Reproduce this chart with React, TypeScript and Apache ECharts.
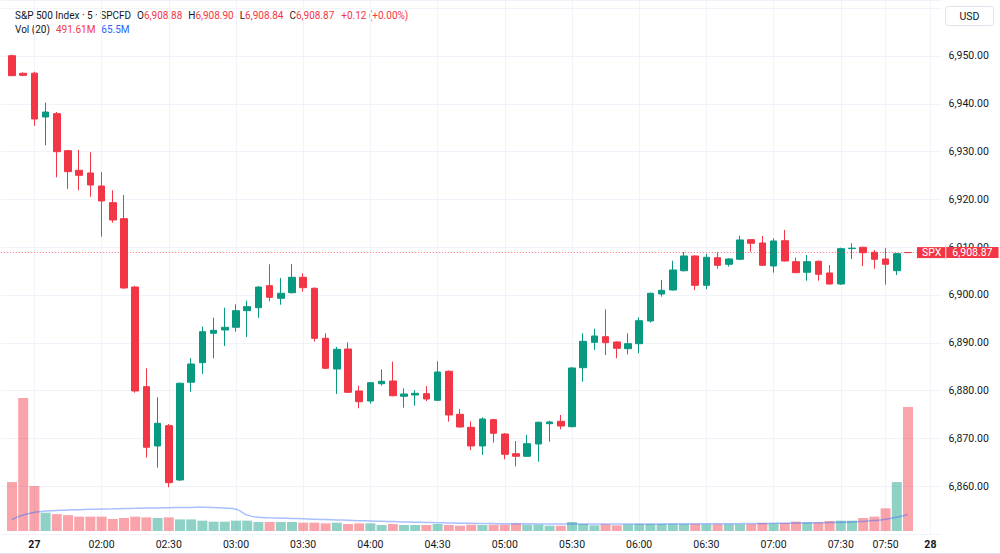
import React, { useEffect, useRef } from 'react';
import * as echarts from 'echarts';

const UP = '#089981';
const DOWN = '#F23645';
const TEXT = '#131722';
const GRID = '#F0F3FA';
const FONT = 'Roboto, "Noto Sans", sans-serif';

// [open, high, low, close] for each 5-minute bar from 01:20 to 08:00
const ohlc: [number, number, number, number][] = [
  [6950.06, 6950.3, 6945.8, 6945.88],
  [6946.38, 6946.55, 6945.75, 6945.96],
  [6946.4, 6946.7, 6935.36, 6936.82],
  [6937.24, 6940.23, 6931.32, 6938.28],
  [6937.93, 6938.28, 6924.62, 6929.98],
  [6930.19, 6930.35, 6922.18, 6925.8],
  [6926.09, 6930.33, 6921.9, 6925.04],
  [6925.52, 6929.85, 6920.57, 6923.01],
  [6922.8, 6925.73, 6912.2, 6919.67],
  [6919.31, 6921.9, 6915.13, 6915.69],
  [6915.97, 6920.92, 6901.3, 6901.46],
  [6901.67, 6901.9, 6879.56, 6879.92],
  [6880.82, 6884.66, 6865.97, 6868.14],
  [6868.41, 6878.6, 6863.87, 6873.16],
  [6872.66, 6873.0, 6859.77, 6860.74],
  [6861.3, 6881.7, 6861.1, 6881.53],
  [6881.74, 6886.76, 6879.77, 6885.56],
  [6885.84, 6893.37, 6883.47, 6892.32],
  [6891.99, 6895.25, 6886.76, 6892.61],
  [6892.68, 6897.34, 6889.33, 6893.24],
  [6893.24, 6898.05, 6892.32, 6896.72],
  [6896.72, 6898.81, 6891.21, 6897.55],
  [6897.34, 6901.8, 6895.19, 6901.67],
  [6901.95, 6906.42, 6898.68, 6899.52],
  [6899.31, 6903.56, 6897.97, 6900.36],
  [6900.48, 6906.49, 6900.3, 6903.7],
  [6903.7, 6904.54, 6900.69, 6901.53],
  [6901.4, 6901.6, 6890.23, 6890.94],
  [6890.94, 6891.99, 6884.5, 6884.67],
  [6884.52, 6889.12, 6879.29, 6888.64],
  [6888.7, 6890.1, 6879.5, 6879.64],
  [6879.92, 6881.03, 6876.3, 6877.68],
  [6877.82, 6881.8, 6877.26, 6881.65],
  [6881.44, 6884.45, 6881.03, 6881.95],
  [6882.01, 6886.05, 6878.8, 6878.93],
  [6878.81, 6880.48, 6876.42, 6879.29],
  [6879.08, 6880.06, 6876.84, 6879.43],
  [6879.35, 6880.96, 6877.82, 6878.24],
  [6877.97, 6886.13, 6877.8, 6883.89],
  [6884.04, 6884.2, 6873.5, 6874.9],
  [6875.04, 6876.15, 6872.3, 6872.38],
  [6872.32, 6873.58, 6867.57, 6868.41],
  [6868.41, 6874.41, 6866.53, 6874.06],
  [6873.92, 6874.1, 6869.1, 6871.07],
  [6870.92, 6871.1, 6865.63, 6866.67],
  [6866.8, 6869.46, 6864.16, 6866.26],
  [6866.26, 6870.71, 6866.1, 6868.89],
  [6868.83, 6873.5, 6865.13, 6873.37],
  [6873.08, 6873.71, 6869.31, 6873.43],
  [6873.58, 6874.9, 6871.9, 6872.59],
  [6872.45, 6884.9, 6872.3, 6884.73],
  [6884.79, 6891.99, 6881.86, 6890.31],
  [6890.1, 6892.95, 6888.49, 6891.42],
  [6891.28, 6897.0, 6887.45, 6890.02],
  [6890.17, 6890.3, 6886.76, 6888.85],
  [6888.77, 6891.99, 6887.59, 6889.81],
  [6889.81, 6895.33, 6887.8, 6894.62],
  [6894.56, 6900.5, 6894.21, 6900.36],
  [6900.21, 6903.14, 6899.65, 6900.98],
  [6901.05, 6907.18, 6900.9, 6905.23],
  [6905.08, 6909.0, 6904.9, 6908.16],
  [6908.16, 6908.3, 6901.05, 6902.03],
  [6902.03, 6908.58, 6901.19, 6907.89],
  [6907.8, 6908.93, 6905.5, 6906.21],
  [6906.42, 6907.7, 6905.92, 6907.53],
  [6907.47, 6912.41, 6907.3, 6911.51],
  [6911.57, 6911.7, 6909.06, 6910.82],
  [6910.88, 6912.34, 6906.1, 6906.21],
  [6906.07, 6911.86, 6904.67, 6911.3],
  [6911.36, 6913.6, 6907.0, 6907.11],
  [6906.97, 6907.8, 6904.6, 6904.67],
  [6904.75, 6908.37, 6902.99, 6906.97],
  [6907.05, 6907.2, 6902.99, 6904.33],
  [6904.6, 6906.28, 6902.2, 6902.3],
  [6902.3, 6909.9, 6902.1, 6909.69],
  [6909.7, 6910.82, 6907.53, 6909.8],
  [6909.98, 6910.1, 6906.07, 6908.85],
  [6908.93, 6909.41, 6905.5, 6907.47],
  [6907.53, 6909.77, 6902.16, 6906.42],
  [6905.08, 6908.8, 6904.18, 6908.64],
  [6908.88, 6908.9, 6908.84, 6908.87],
];

// volume in millions
const volumes = [
  194, 527, 178, 72.6, 67, 63, 57, 57, 57, 47.6,
  51.5, 57, 54, 51.5, 54, 46, 46, 41, 37, 37,
  41, 41, 35.7, 35.7, 35.7, 35.7, 33, 33, 30.4, 33,
  27.8, 30.4, 30.4, 23.8, 27.8, 23.8, 23.8, 23.8, 27.8, 23.8,
  21, 25, 23.8, 25, 25, 29, 25, 25, 21, 21,
  35.7, 27.8, 22.6, 26.4, 22.6, 26.4, 27.8, 27.8, 27.8, 27.8,
  27.8, 27.8, 27, 27, 27, 27, 27.8, 31.7, 30, 31.7,
  37, 34.4, 34.4, 39.6, 41, 41, 51.5, 57, 90, 194,
  491.61,
];

// 20-bar volume moving average, millions
const volumeMA = [
  45.6, 63.4, 74, 79.3, 81.3, 83.3, 84.5, 86, 87.2, 88,
  89.2, 90, 90.8, 91.6, 92.4, 93.2, 93.6, 94, 93.6, 91.2,
  86, 63, 54.3, 52.3, 50.8, 49.6, 48.4, 46.4, 45.2, 44,
  42.4, 40.8, 39.6, 38.5, 37.3, 36, 34.9, 33.7, 32.9, 31.7,
  30.9, 30.5, 29.7, 29.3, 28.9, 28.6, 28.4, 28.2, 28, 27.9,
  27.8, 27.9, 27.8, 27.9, 27.8, 27.9, 28, 28.1, 28.2, 28.3,
  28.4, 28.5, 28.7, 28.9, 29.1, 29.3, 29.6, 30, 30.4, 31,
  31.6, 32.2, 32.9, 33.5, 34.2, 35.5, 38, 41.2, 46.5, 54.5,
  65.5,
];

// time axis labels: [slot time, label]
const timeLabels: [string, string][] = [
  ['01:30', '27'], ['02:00', '02:00'], ['02:30', '02:30'], ['03:00', '03:00'],
  ['03:30', '03:30'], ['04:00', '04:00'], ['04:30', '04:30'], ['05:00', '05:00'],
  ['05:30', '05:30'], ['06:00', '06:00'], ['06:30', '06:30'], ['07:00', '07:00'],
  ['07:30', '07:30'], ['07:50', '07:50'], ['08:10', '28'],
];
const dayLabels = ['27', '28'];

const lastPrice = 6908.87;
const yMin = 6850;
const yMax = 6961.71;
const yStep = 10;
const volMax = 2105;

// slots: one before the first bar, 81 bars, three after the last
const PAD_BEFORE = 1;
const PAD_AFTER = 3;
const firstMinute = 1 * 60 + 20 - 5 * PAD_BEFORE;
const slotCount = PAD_BEFORE + ohlc.length + PAD_AFTER;
const categories = Array.from({ length: slotCount }, (_, k) => {
  const m = firstMinute + 5 * k;
  const h = Math.floor(m / 60);
  const mm = m % 60;
  return `${String(h).padStart(2, '0')}:${String(mm).padStart(2, '0')}`;
});
const labelMap: Record<string, string> = Object.fromEntries(timeLabels);

const fmt = (v: number) =>
  v.toLocaleString('en-US', { minimumFractionDigits: 2, maximumFractionDigits: 2 });

export default function App() {
  const ref = useRef<HTMLDivElement>(null);
  useEffect(() => {
    if (!ref.current) return;
    const chart = echarts.init(ref.current, null, { renderer: 'svg' });

    const candleData = categories.map((_, k) => {
      const i = k - PAD_BEFORE;
      if (i < 0 || i >= ohlc.length) return '-';
      const [o, h, l, c] = ohlc[i];
      return [o, c, l, h];
    });
    const volData = categories.map((_, k) => {
      const i = k - PAD_BEFORE;
      if (i < 0 || i >= ohlc.length) return '-';
      const up = ohlc[i][3] >= ohlc[i][0];
      return {
        value: volumes[i],
        itemStyle: { color: up ? 'rgba(8,153,129,0.45)' : 'rgba(242,54,69,0.45)' },
      };
    });
    const maData = categories.map((_, k) => {
      const i = k - PAD_BEFORE;
      if (i < 0 || i >= volumeMA.length) return '-';
      return volumeMA[i];
    });

    const isLabel = (_: number, v: string) => v in labelMap;

    const hdrFont = 10;
    const last = ohlc[ohlc.length - 1];
    const tok = (fill: string, padLeft = 0) => ({
      fill,
      fontFamily: FONT,
      fontSize: hdrFont,
      padding: [0, 0, 0, padLeft],
    });

    const line1 =
      '{t|S&P 500 Index · 5 · SPCFD}' +
      `{k|O}{v|${fmt(last[0])}}` +
      `{k|H}{v|${fmt(last[1])}}` +
      `{k|L}{v|${fmt(last[2])}}` +
      `{k|C}{v|${fmt(last[3])}}` +
      '{c|+0.12 (+0.00%)}';
    const line2 =
      '{t|Vol (20)}' +
      `{c|${volumes[volumes.length - 1].toFixed(2)}M}` +
      `{m|${volumeMA[volumeMA.length - 1]}M}`;

    chart.setOption({
      animation: false,
      textStyle: { fontFamily: FONT },
      grid: [
        { left: 0.8, right: 58.4, top: 0, bottom: 20 },
        { left: 0.8, right: 58.4, top: 0, bottom: 23 },
      ],
      xAxis: [
        {
          type: 'category',
          gridIndex: 0,
          data: categories,
          boundaryGap: false,
          axisLine: { show: false },
          axisTick: { show: false },
          axisLabel: {
            interval: isLabel,
            formatter: (v: string) => {
              const t = labelMap[v] ?? '';
              return dayLabels.includes(t) ? `{b|${t}}` : t;
            },
            color: TEXT,
            fontSize: 10.5,
            fontFamily: FONT,
            margin: 5,
            rich: { b: { fontWeight: 'bold', fontSize: 10.5, color: TEXT, fontFamily: FONT } },
          },
          splitLine: { show: true, interval: isLabel, lineStyle: { color: GRID, width: 1 } },
        },
        {
          type: 'category',
          gridIndex: 1,
          data: categories,
          boundaryGap: false,
          show: false,
        },
      ],
      yAxis: [
        {
          type: 'value',
          gridIndex: 0,
          position: 'right',
          min: yMin,
          max: yMax,
          interval: yStep,
          axisLine: { show: false },
          axisTick: { show: false },
          axisLabel: {
            margin: 7,
            color: TEXT,
            fontSize: 10.5,
            fontFamily: FONT,
            formatter: (v: number) => (v > yMin + 1 && v < yMax - 5 ? fmt(v) : ''),
          },
          splitLine: { show: true, lineStyle: { color: GRID, width: 1 } },
        },
        {
          type: 'value',
          gridIndex: 1,
          min: 0,
          max: volMax,
          show: false,
          splitLine: { show: false },
        },
      ],
      series: [
        {
          type: 'bar',
          xAxisIndex: 1,
          yAxisIndex: 1,
          data: volData,
          barWidth: 10,
          z: 1,
        },
        {
          type: 'line',
          xAxisIndex: 1,
          yAxisIndex: 1,
          data: maData,
          smooth: true,
          symbol: 'none',
          lineStyle: { color: 'rgba(41,98,255,0.4)', width: 1.5 },
          z: 2,
        },
        {
          type: 'candlestick',
          xAxisIndex: 0,
          yAxisIndex: 0,
          data: candleData,
          barWidth: 7,
          z: 3,
          itemStyle: {
            color: UP,
            color0: DOWN,
            borderColor: UP,
            borderColor0: DOWN,
            borderWidth: 1,
          },
          markLine: {
            silent: true,
            symbol: ['none', 'none'],
            data: [{ yAxis: lastPrice }],
            lineStyle: { color: 'rgba(242,54,69,0.75)', type: [1, 2], width: 1 },
            label: {
              show: true,
              position: 'end',
              distance: -24.6,
              formatter: `{a|SPX}{s| }{b|${fmt(lastPrice)}}`,
              rich: {
                a: {
                  backgroundColor: DOWN,
                  color: '#fff',
                  fontSize: 10.5,
                  fontFamily: FONT,
                  lineHeight: 14,
                  padding: [0, 4, 0, 5],
                },
                s: {
                  backgroundColor: '#F8B4B9',
                  width: 1,
                  fontSize: 10.5,
                  lineHeight: 14,
                  height: 14,
                },
                b: {
                  backgroundColor: DOWN,
                  color: '#fff',
                  fontSize: 10.5,
                  fontFamily: FONT,
                  lineHeight: 14,
                  padding: [0, 6, 0, 6],
                },
              },
            },
          },
        },
      ],
      graphic: [
        {
          type: 'text',
          x: 15,
          y: 15,
          style: {
            text: line1,
            fontFamily: FONT,
            fontSize: hdrFont,
            verticalAlign: 'middle',
            rich: {
              t: tok(TEXT),
              k: tok(TEXT, 6),
              v: tok(DOWN),
              c: tok(DOWN, 7),
            },
          },
        },
        {
          type: 'text',
          x: 15,
          y: 29,
          style: {
            text: line2,
            fontFamily: FONT,
            fontSize: hdrFont,
            verticalAlign: 'middle',
            rich: {
              t: tok(TEXT),
              c: tok(DOWN, 6),
              m: tok('#2962FF', 6),
            },
          },
        },
        {
          type: 'rect',
          shape: { x: 945.5, y: 6.5, width: 48, height: 19, r: 3 },
          style: { fill: '#fff', stroke: '#E0E3EB', lineWidth: 1 },
        },
        {
          type: 'text',
          x: 969.5,
          y: 16,
          style: {
            text: 'USD',
            fill: TEXT,
            fontFamily: FONT,
            fontSize: 10.5,
            align: 'center',
            verticalAlign: 'middle',
          },
        },
        {
          type: 'line',
          shape: { x1: 0, y1: 553.5, x2: 1000, y2: 553.5 },
          style: { stroke: '#E0E3EB', lineWidth: 1 },
        },
      ],
    });
    return () => chart.dispose();
  }, []);
  return (
    <div
      ref={ref}
      style={{ position: 'fixed', left: 0, top: 0, width: 1000, height: 554, background: '#fff' }}
    />
  );
}
